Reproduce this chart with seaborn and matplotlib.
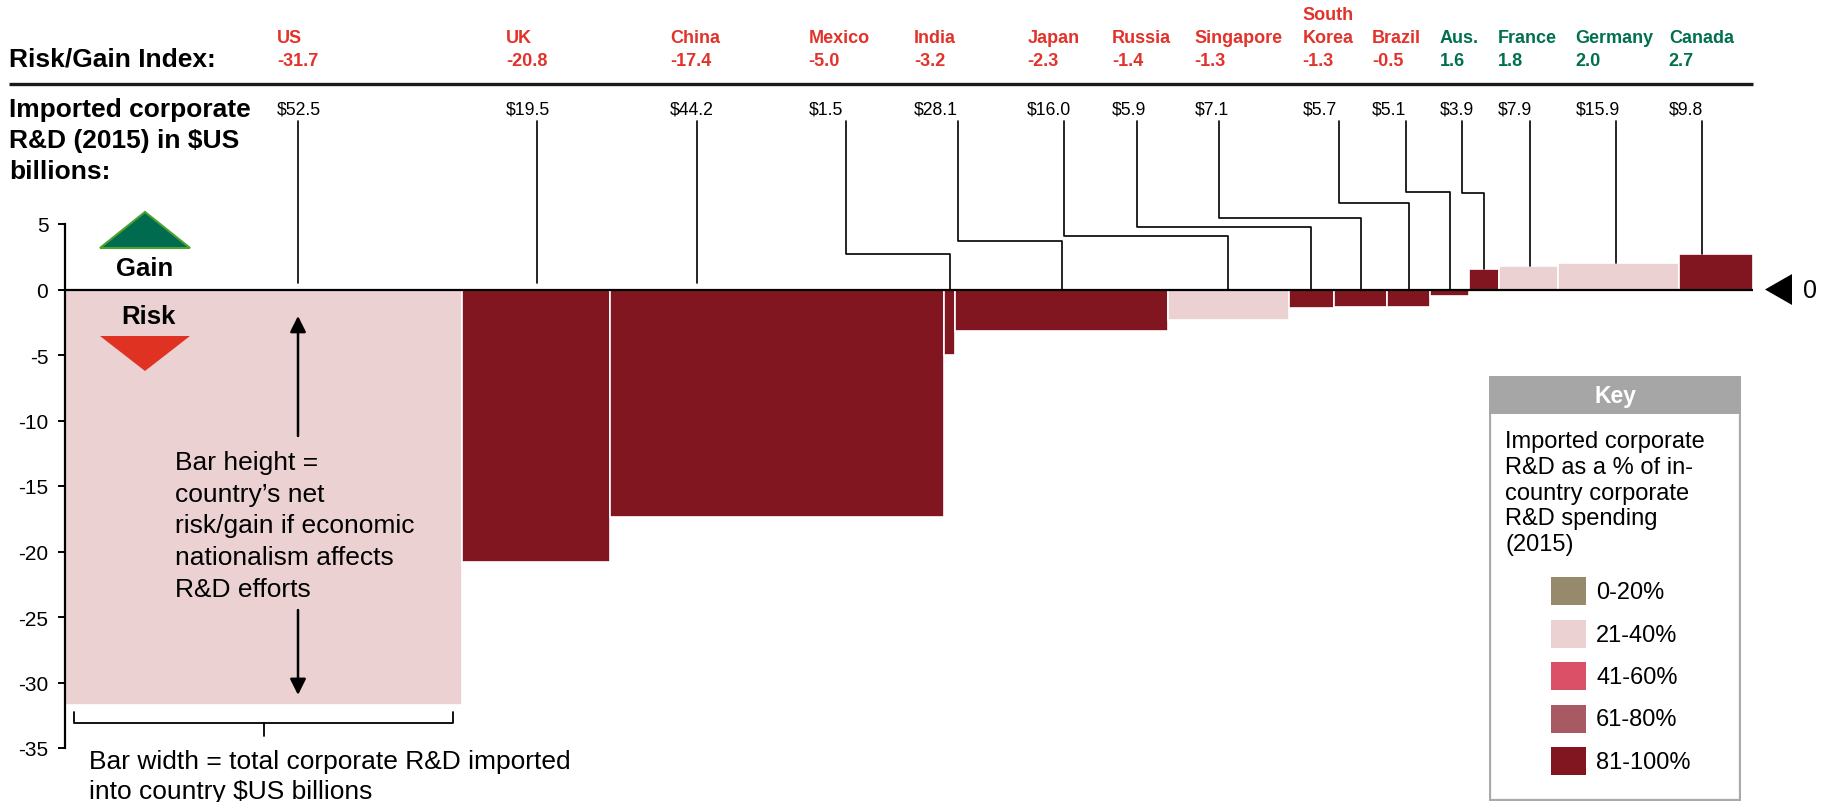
import numpy as np
import pandas as pd
import matplotlib
matplotlib.use("Agg")
import matplotlib.pyplot as plt
import seaborn as sns
from matplotlib.patches import Polygon, Rectangle

# ---------------- data ----------------
countries = ["US", "UK", "China", "Mexico", "India", "Japan", "Russia", "Singapore",
             "South\nKorea", "Brazil", "Aus.", "France", "Germany", "Canada"]
risk_gain = [-31.7, -20.8, -17.4, -5.0, -3.2, -2.3, -1.4, -1.3, -1.3, -0.5, 1.6, 1.8, 2.0, 2.7]
imported_rd = [52.5, 19.5, 44.2, 1.5, 28.1, 16.0, 5.9, 7.1, 5.7, 5.1, 3.9, 7.9, 15.9, 9.8]
share_band = ["21-40%", "81-100%", "81-100%", "81-100%", "81-100%", "21-40%", "81-100%",
              "81-100%", "81-100%", "81-100%", "81-100%", "21-40%", "21-40%", "81-100%"]
key_labels = ["0-20%", "21-40%", "41-60%", "61-80%", "81-100%"]
y_ticks = [5, 0, -5, -10, -15, -20, -25, -30, -35]

# ---------------- layout / style ----------------
key_colors = ["#978A6C", "#EBD1D2", "#DC5067", "#A85A62", "#821620"]
band_color = dict(zip(key_labels, key_colors))
RED = "#E2322A"
GREEN = "#007050"
# label anchor x (data units) and leader line x
label_x = [28.0, 58.3, 80.0, 98.3, 112.2, 127.2, 138.4, 149.3, 163.6, 172.8, 181.7, 189.4, 199.7, 212.0]
line_x = [30.8, 62.4, 83.5, 103.2, 118.0, 132.1, 141.7, 152.6, 168.4, 177.2, 184.7, 193.7, 205.0, 216.4]
jog_y = [None, None, None, 2.71, 3.7, 4.08, 4.77, 5.46, 6.6, 7.44, 7.37, None, None, None]

W, H = 1826, 803
X0_PX, XS = 65, 7.565      # axis origin px, px per $B
Y0_PX, YS = 290.5, 13.1    # zero line px, px per index unit

sns.set_theme(style="white")
plt.rcParams["font.family"] = ["Liberation Sans", "DejaVu Sans"]
plt.rcParams["axes.unicode_minus"] = False
plt.rcParams["text.color"] = "black"

fig = plt.figure(figsize=(W / 100, H / 100), dpi=100)
ax = fig.add_axes([X0_PX / W, 0, (W - X0_PX) / W, 1])

df = pd.DataFrame({"country": countries, "risk_gain": risk_gain, "band": share_band})
palette = {c: band_color[b] for c, b in zip(countries, share_band)}
sns.barplot(data=df, x="country", y="risk_gain", hue="country", order=countries,
            hue_order=countries, palette=palette, legend=False, saturation=1,
            edgecolor="white", linewidth=1.2, ax=ax)

# variable-width bars (Marimekko style) from data widths
lefts = np.concatenate([[0], np.cumsum(imported_rd)[:-1]])
centers = lefts + np.array(imported_rd) / 2
patches = sorted(ax.patches, key=lambda p: p.get_x())
for p, l, w in zip(patches, lefts, imported_rd):
    p.set_x(l)
    p.set_width(w)

total = float(np.sum(imported_rd))
ax.set_xlim(0, (W - X0_PX) / XS)
ax.set_ylim((Y0_PX - H) / YS, Y0_PX / YS)
ax.set_xticks([])
ax.set_xlabel("")
ax.set_ylabel("")
for s in ["top", "right", "bottom"]:
    ax.spines[s].set_visible(False)
ax.spines["left"].set_bounds(-35, 5)
ax.spines["left"].set_linewidth(1.6)
ax.spines["left"].set_color("black")
ax.set_yticks(y_ticks)
ax.set_yticklabels([str(t) for t in y_ticks])
ax.tick_params(axis="y", direction="out", length=5, width=1.4, pad=7,
               labelsize=15, left=True, colors="black")
ax.patch.set_alpha(0)

# zero line
ax.plot([0, total], [0, 0], color="black", lw=1.6, zorder=5, solid_capstyle="butt")
# right marker (pointing left to the zero line)
ax.add_patch(Polygon([[(1792 - X0_PX) / XS, 1.18], [(1792 - X0_PX) / XS, -1.18],
                      [(1765 - X0_PX) / XS, 0]], closed=True, fc="black", ec="none",
                     clip_on=False))
ax.text((1803 - X0_PX) / XS, 0, "0", fontsize=18, va="center", ha="left", clip_on=False)

# top header
xl = (9 - X0_PX) / XS
ax.text(xl, 17.6, "Risk/Gain Index:", fontsize=19, fontweight="bold", va="center", ha="left")
ax.plot([xl, total], [15.69, 15.69], color="#1a1a1a", lw=2.4, clip_on=False,
        solid_capstyle="butt")
for i, txt in enumerate(["Imported corporate", "R&D (2015) in $US", "billions:"]):
    ax.text(xl, 13.78 - 2.36 * i, txt, fontsize=19, fontweight="bold", va="center", ha="left")

for i, c in enumerate(countries):
    col = RED if risk_gain[i] < 0 else GREEN
    lines = c.split("\n")
    for k, ln in enumerate(reversed(lines)):
        ax.text(label_x[i], 19.27 + 1.76 * k, ln, fontsize=13, fontweight="bold",
                color=col, va="center", ha="left")
    ax.text(label_x[i], 17.5, f"{risk_gain[i]:.1f}", fontsize=13, fontweight="bold",
            color=col, va="center", ha="left")
    ax.text(label_x[i], 13.78, f"${imported_rd[i]:.1f}", fontsize=12.7,
            va="center", ha="left")
    # leader line
    top = 12.86
    bottom_y = risk_gain[i] if risk_gain[i] > 0 else 0.0
    if jog_y[i] is None:
        if risk_gain[i] < 0:
            bottom_y = 0.5
        xs = [line_x[i], line_x[i]]
        ys = [top, bottom_y]
    else:
        xs = [line_x[i], line_x[i], centers[i], centers[i]]
        ys = [top, jog_y[i], jog_y[i], bottom_y]
    ax.plot(xs, ys, color="black", lw=1.2, zorder=4)

# gain / risk markers
gx0, gx1 = (100 - X0_PX) / XS, (190 - X0_PX) / XS
gm = (gx0 + gx1) / 2
ax.add_patch(Polygon([[gx0, 3.17], [gx1, 3.17], [gm, 5.92]], closed=True,
                     fc="#006B4F", ec="#4CA22E", lw=1.5, zorder=6))
ax.add_patch(Polygon([[gx0, -3.55], [gx1, -3.55], [gm, -6.22]], closed=True,
                     fc="#E03222", ec="none", zorder=6))
ax.text(gm, 1.64, "Gain", fontsize=18.5, fontweight="bold", ha="center", va="center", zorder=6)
ax.text(gm + 0.5, -2.02, "Risk", fontsize=18.5, fontweight="bold", ha="center", va="center", zorder=6)

# explanatory arrows and text
ax.annotate("", xy=(line_x[0], -2.02), xytext=(line_x[0], -11.18),
            arrowprops=dict(arrowstyle="-|>", lw=1.8, color="black", mutation_scale=24,
                            shrinkA=0, shrinkB=0), zorder=6)
ax.annotate("", xy=(line_x[0], -30.95), xytext=(line_x[0], -24.47),
            arrowprops=dict(arrowstyle="-|>", lw=1.8, color="black", mutation_scale=24,
                            shrinkA=0, shrinkB=0), zorder=6)
expl = ["Bar height =", "country\u2019s net", "risk/gain if economic",
        "nationalism affects", "R&D efforts"]
tx = (175 - X0_PX) / XS
for k, ln in enumerate(expl):
    ax.text(tx, -13.17 - 2.42 * k, ln, fontsize=19, ha="left", va="center", zorder=6)

# brace under US bar
bl, br = (74 - X0_PX) / XS, (453 - X0_PX) / XS
bc = centers[0]
ax.plot([bl, bl, br, br], [-32.25, -33.09, -33.09, -32.25], color="black", lw=1.3,
        clip_on=False)
ax.plot([bc, bc], [-33.09, -34.08], color="black", lw=1.3, clip_on=False)
bx = (89 - X0_PX) / XS
ax.text(bx, -35.99, "Bar width = total corporate R&D imported", fontsize=19,
        ha="left", va="center")
ax.text(bx, -38.28, "into country $US billions", fontsize=19, ha="left", va="center")

# ---------------- key box ----------------
kx0, kx1, ky0, ky1 = 1489, 1741, 377, 802
kax = fig.add_axes([kx0 / W, (H - ky1) / H, (kx1 - kx0) / W, (ky1 - ky0) / H])
kax.set_xlim(0, kx1 - kx0)
kax.set_ylim(ky1 - ky0, 0)
kax.axis("off")
kax.add_patch(Rectangle((1, 1), kx1 - kx0 - 2, ky1 - ky0 - 2, fc="white",
                        ec="#A9A9A9", lw=1.6))
kax.add_patch(Rectangle((0, 0), kx1 - kx0, 38, fc="#A6A6A6", ec="none"))
kax.text((kx1 - kx0) / 2, 20, "Key", color="white", fontsize=16.5, fontweight="bold",
         ha="center", va="center")
key_text = ["Imported corporate", "R&D as a % of in-", "country corporate",
            "R&D spending", "(2015)"]
for k, ln in enumerate(key_text):
    kax.text(16, 65 + 25.8 * k, ln, fontsize=17, ha="left", va="center")
for k, (lab, col) in enumerate(zip(key_labels, key_colors)):
    yc = 215 + 42.5 * k
    kax.add_patch(Rectangle((62, yc - 14), 35, 28, fc=col, ec="none"))
    kax.text(107, yc + 1, lab, fontsize=17, ha="left", va="center")

fig.savefig("out.png", dpi=100)
